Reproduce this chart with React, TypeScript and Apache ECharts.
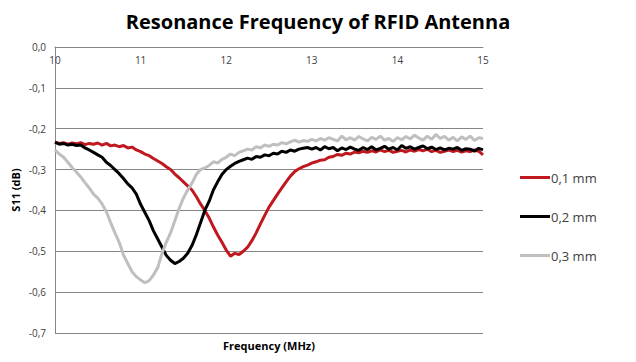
import React, { useEffect, useRef } from "react";
import * as echarts from "echarts";

const TITLE = "Resonance Frequency of RFID Antenna";
const X_NAME = "Frequency (MHz)";
const Y_NAME = "S11 (dB)";
const SERIES_NAMES = ["0,1 mm", "0,2 mm", "0,3 mm"];
const SERIES_COLORS = ["#C0181F", "#000000", "#BFBFBF"];

const FREQ_START = 10;
const FREQ_STEP = 0.05;

const S11_01 = [
  -0.233, -0.236, -0.234, -0.238, -0.235, -0.237, -0.234, -0.239, -0.236, -0.238,
  -0.235, -0.240, -0.236, -0.242, -0.240, -0.244, -0.241, -0.247, -0.245, -0.252,
  -0.256, -0.262, -0.266, -0.273, -0.279, -0.285, -0.293, -0.300, -0.311, -0.320,
  -0.330, -0.340, -0.350, -0.366, -0.384, -0.400, -0.418, -0.440, -0.460, -0.478,
  -0.497, -0.512, -0.505, -0.508, -0.500, -0.490, -0.474, -0.455, -0.433, -0.412,
  -0.392, -0.376, -0.360, -0.345, -0.330, -0.316, -0.305, -0.298, -0.293, -0.289,
  -0.284, -0.281, -0.277, -0.276, -0.270, -0.268, -0.263, -0.265, -0.260, -0.262,
  -0.257, -0.259, -0.255, -0.258, -0.254, -0.257, -0.252, -0.256, -0.253, -0.258,
  -0.255, -0.253, -0.257, -0.252, -0.255, -0.251, -0.254, -0.250, -0.256, -0.253,
  -0.258, -0.255, -0.252, -0.256, -0.253, -0.257, -0.254, -0.256, -0.252, -0.255,
  -0.264,
];

const S11_02 = [
  -0.233, -0.238, -0.236, -0.240, -0.238, -0.241, -0.240, -0.247, -0.252, -0.258,
  -0.264, -0.270, -0.282, -0.290, -0.300, -0.310, -0.322, -0.335, -0.345, -0.360,
  -0.385, -0.405, -0.425, -0.450, -0.470, -0.490, -0.510, -0.522, -0.530, -0.525,
  -0.517, -0.505, -0.486, -0.460, -0.430, -0.400, -0.378, -0.350, -0.330, -0.312,
  -0.300, -0.292, -0.285, -0.280, -0.276, -0.272, -0.275, -0.268, -0.270, -0.264,
  -0.266, -0.260, -0.262, -0.255, -0.258, -0.252, -0.255, -0.250, -0.248, -0.246,
  -0.250, -0.246, -0.252, -0.244, -0.249, -0.246, -0.254, -0.247, -0.251, -0.245,
  -0.250, -0.253, -0.246, -0.251, -0.244, -0.252, -0.248, -0.243, -0.250, -0.246,
  -0.252, -0.241, -0.248, -0.244, -0.250, -0.246, -0.242, -0.249, -0.245, -0.251,
  -0.247, -0.252, -0.248, -0.250, -0.246, -0.253, -0.249, -0.250, -0.255, -0.248,
  -0.252,
];

const S11_03 = [
  -0.252, -0.262, -0.270, -0.282, -0.295, -0.306, -0.318, -0.332, -0.345, -0.360,
  -0.370, -0.384, -0.403, -0.430, -0.455, -0.478, -0.509, -0.530, -0.550, -0.562,
  -0.570, -0.577, -0.572, -0.558, -0.540, -0.505, -0.478, -0.455, -0.425, -0.395,
  -0.370, -0.350, -0.333, -0.312, -0.300, -0.296, -0.290, -0.281, -0.284, -0.275,
  -0.270, -0.262, -0.266, -0.258, -0.254, -0.250, -0.252, -0.244, -0.247, -0.240,
  -0.243, -0.238, -0.240, -0.234, -0.237, -0.232, -0.228, -0.233, -0.229, -0.231,
  -0.226, -0.230, -0.224, -0.228, -0.222, -0.226, -0.230, -0.218, -0.227, -0.222,
  -0.228, -0.219, -0.225, -0.230, -0.221, -0.226, -0.218, -0.228, -0.224, -0.231,
  -0.222, -0.227, -0.219, -0.225, -0.216, -0.223, -0.228, -0.218, -0.226, -0.214,
  -0.224, -0.219, -0.228, -0.221, -0.230, -0.220, -0.226, -0.218, -0.229, -0.222,
  -0.224,
];

const SERIES_VALUES = [S11_01, S11_02, S11_03];

const FONT = "'Open Sans', 'Liberation Sans', sans-serif";

export default function App() {
  const ref = useRef<HTMLDivElement>(null);

  useEffect(() => {
    if (!ref.current) return;
    const chart = echarts.init(ref.current, undefined, { renderer: "svg" });
    const toPairs = (vals: number[]) =>
      vals.map((v, i) => [+(FREQ_START + i * FREQ_STEP).toFixed(2), v]);

    chart.setOption({
      animation: false,
      backgroundColor: "#ffffff",
      title: {
        text: TITLE,
        left: "center",
        top: 6,
        textStyle: { fontFamily: FONT, fontSize: 20, fontWeight: "bold", color: "#000" },
      },
      grid: { left: 55, right: 153, top: 47, bottom: 29, containLabel: false },
      legend: {
        orient: "vertical",
        left: 515,
        top: 166,
        itemGap: 26,
        itemWidth: 30,
        itemHeight: 3,
        icon: "rect",
        data: SERIES_NAMES,
        textStyle: { fontFamily: FONT, fontSize: 13, color: "#404040", padding: [0, 0, 0, -4] },
      },
      xAxis: {
        type: "value",
        min: 10,
        max: 15,
        interval: 1,
        position: "top",
        axisLine: { show: true, lineStyle: { color: "#868686", width: 1 } },
        axisTick: { show: false },
        splitLine: { show: false },
        axisLabel: {
          inside: true,
          margin: 8,
          fontFamily: FONT,
          fontSize: 10,
          color: "#404040",
        },
      },
      yAxis: {
        type: "value",
        min: -0.7,
        max: 0,
        interval: 0.1,
        axisLine: { show: true, lineStyle: { color: "#868686", width: 1 } },
        axisTick: { show: false },
        splitLine: { show: true, lineStyle: { color: "#868686", width: 1 } },
        axisLabel: {
          margin: 9,
          fontFamily: FONT,
          fontSize: 10,
          color: "#404040",
          formatter: (v: number) => v.toFixed(1).replace(".", ",").replace("-0,0", "0,0"),
        },
      },
      graphic: [
        {
          type: "text",
          x: 269,
          y: 345,
          style: {
            text: X_NAME,
            fontFamily: FONT,
            fontSize: 11,
            fontWeight: "bold",
            fill: "#000",
            align: "center",
            verticalAlign: "middle",
          },
        },
        {
          type: "text",
          x: 15,
          y: 190,
          rotation: Math.PI / 2,
          style: {
            text: Y_NAME,
            fontFamily: FONT,
            fontSize: 11,
            fontWeight: "bold",
            fill: "#000",
            align: "center",
            verticalAlign: "middle",
          },
        },
      ],
      series: SERIES_NAMES.map((name, k) => ({
        name,
        type: "line",
        showSymbol: false,
        symbol: "none",
        data: toPairs(SERIES_VALUES[k]),
        lineStyle: { color: SERIES_COLORS[k], width: 3 },
        itemStyle: { color: SERIES_COLORS[k] },
      })),
    });
    return () => chart.dispose();
  }, []);

  return <div ref={ref} style={{ width: 636, height: 362, margin: -8 }} />;
}
